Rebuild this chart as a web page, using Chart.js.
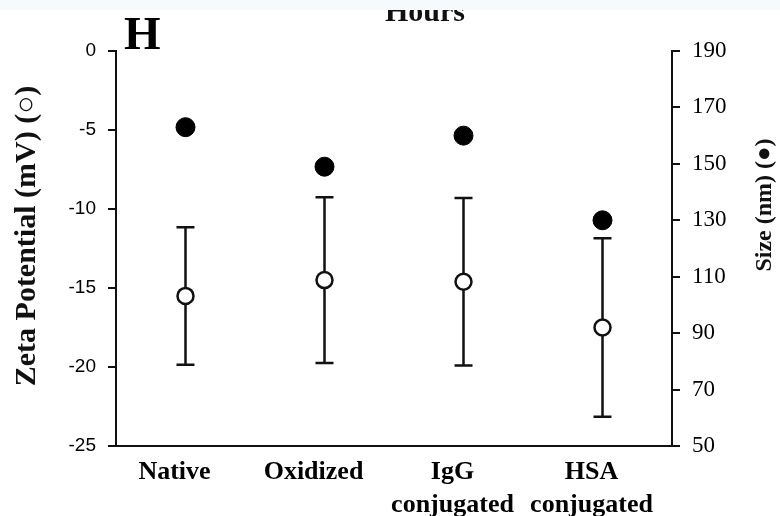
<!DOCTYPE html>
<html>
<head>
<meta charset="utf-8">
<script src="https://cdn.jsdelivr.net/npm/chart.js@4"></script>
<style>
  html, body { margin: 0; padding: 0; background: #ffffff; }
  #wrap { width: 780px; height: 516px; }
</style>
</head>
<body>
<div id="wrap"><canvas id="c" width="780" height="516"></canvas></div>
<script>
// Nanoparticle surface characterisation: zeta potential (open circles, left axis)
// and hydrodynamic size (filled circles, right axis) for each preparation.
const categories = [['Native'], ['Oxidized'], ['IgG', 'conjugated'], ['HSA', 'conjugated']];
const zetaMean = [-15.5, -14.5, -14.6, -17.5];   // mV
const zetaErr  = [4.35, 5.25, 5.3, 5.65];        // mV, ± bar
const sizeNm   = [163, 149, 160, 130];           // nm
const zetaTicks = [0, -5, -10, -15, -20, -25];
const sizeTicks = [190, 170, 150, 130, 110, 90, 70, 50];

const SERIF = "'Liberation Serif', 'Times New Roman', serif";
const SANS = "'Liberation Sans', Arial, sans-serif";
const INK = '#111111';

// Vertical ± bars drawn under the zeta markers
const errorBars = {
  id: 'errorBars',
  beforeDatasetsDraw(chart) {
    const { ctx, scales: { x, y } } = chart;
    ctx.save();
    ctx.strokeStyle = INK;
    ctx.lineWidth = 2.5;
    zetaMean.forEach((m, i) => {
      const px = x.getPixelForValue(i);
      const top = y.getPixelForValue(m + zetaErr[i]);
      const bot = y.getPixelForValue(m - zetaErr[i]);
      ctx.beginPath();
      ctx.moveTo(px, top); ctx.lineTo(px, bot);
      ctx.moveTo(px - 9, top); ctx.lineTo(px + 9, top);
      ctx.moveTo(px - 9, bot); ctx.lineTo(px + 9, bot);
      ctx.stroke();
    });
    ctx.restore();
  }
};

// Panel letter, cut-off heading strip and the two rotated axis titles
const panelText = {
  id: 'panelText',
  afterDraw(chart) {
    const { ctx } = chart;
    ctx.save();
    ctx.fillStyle = INK;
    ctx.textAlign = 'center';
    ctx.textBaseline = 'alphabetic';
    ctx.font = 'bold 30px ' + SERIF;
    ctx.fillText('Hours', 425, 21);
    ctx.fillStyle = '#f5fafd';
    ctx.fillRect(0, 0, 780, 10);

    ctx.fillStyle = '#000';
    ctx.textAlign = 'left';
    ctx.font = 'bold 47px ' + SERIF;
    ctx.fillText('H', 124, 49);
    ctx.restore();

    const vtitle = (text, cx, cy, size) => {
      ctx.save();
      ctx.translate(cx, cy);
      ctx.rotate(-Math.PI / 2);
      ctx.textAlign = 'center';
      ctx.textBaseline = 'middle';
      ctx.fillStyle = INK;
      ctx.font = 'bold ' + size + 'px ' + SERIF;
      ctx.fillText(text, 0, 0);
      ctx.restore();
    };
    vtitle('Zeta Potential (mV) (\u25CB)', 27, 236, 30);
    vtitle('Size (nm) (\u25CF)', 765, 205, 24);
  }
};

new Chart(document.getElementById('c'), {
  type: 'line',
  data: {
    labels: categories,
    datasets: [
      {
        label: 'Zeta Potential (mV)',
        data: zetaMean,
        yAxisID: 'y',
        showLine: false,
        pointStyle: 'circle',
        pointRadius: 8,
        pointBackgroundColor: '#ffffff',
        pointBorderColor: INK,
        pointBorderWidth: 2.5,
        order: 1
      },
      {
        label: 'Size (nm)',
        data: sizeNm,
        yAxisID: 'y1',
        showLine: false,
        pointStyle: 'circle',
        pointRadius: 9.5,
        pointBackgroundColor: '#000000',
        pointBorderColor: '#000000',
        pointBorderWidth: 1,
        order: 2
      }
    ]
  },
  options: {
    responsive: false,
    animation: false,
    devicePixelRatio: 1,
    layout: { padding: { top: 51, left: 0, right: 0, bottom: 0 } },
    plugins: { legend: { display: false }, tooltip: { enabled: false } },
    scales: {
      x: {
        type: 'category',
        offset: true,
        grid: { display: false, drawTicks: false },
        border: { display: true, color: INK, width: 2 },
        ticks: {
          color: '#000',
          font: { family: SERIF, size: 26, weight: 'bold', lineHeight: 1.27 },
          padding: 10,
          labelOffset: -11,
          maxRotation: 0,
          autoSkip: false
        },
        afterFit(s) { s.height = 70; }
      },
      y: {
        position: 'left',
        min: Math.min(...zetaTicks),
        max: Math.max(...zetaTicks),
        grid: { drawOnChartArea: false, drawTicks: true, tickLength: 8, color: INK, lineWidth: 2 },
        border: { display: true, color: INK, width: 2 },
        ticks: {
          stepSize: zetaTicks[0] - zetaTicks[1],
          color: '#000',
          font: { family: SANS, size: 19 },
          padding: 12
        },
        afterFit(s) { s.width = 116; }
      },
      y1: {
        position: 'right',
        min: Math.min(...sizeTicks),
        max: Math.max(...sizeTicks),
        grid: { drawOnChartArea: false, drawTicks: true, tickLength: 8, color: INK, lineWidth: 2 },
        border: { display: true, color: INK, width: 2 },
        ticks: {
          stepSize: sizeTicks[0] - sizeTicks[1],
          color: '#000',
          font: { family: SERIF, size: 23 },
          padding: 12
        },
        afterFit(s) { s.width = 108; }
      }
    }
  },
  plugins: [errorBars, panelText]
});
</script>
</body>
</html>
